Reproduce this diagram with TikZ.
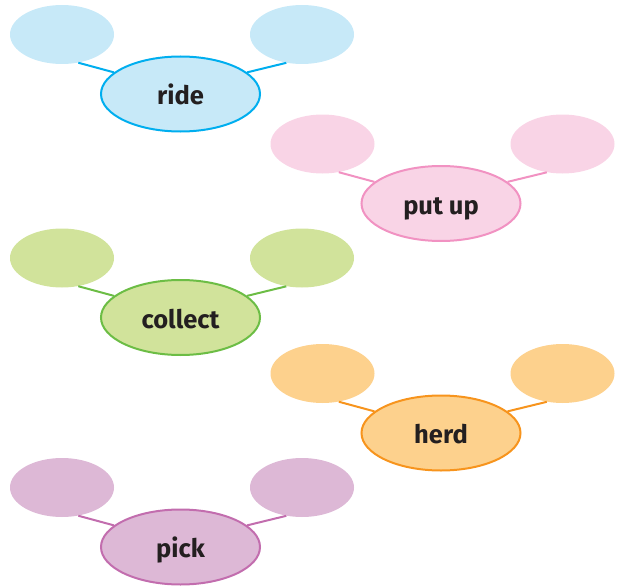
\documentclass[tikz,border=0pt]{standalone}
\usepackage{fontspec}
\setmainfont{Fira Sans}
\usetikzlibrary{shapes.geometric,calc}

\definecolor{inkdark}{HTML}{231F20}
\definecolor{blueFill}{HTML}{C7E9F8}
\definecolor{blueLine}{HTML}{00AEEF}
\definecolor{pinkFill}{HTML}{F9D4E6}
\definecolor{pinkLine}{HTML}{F192C2}
\definecolor{greenFill}{HTML}{D1E39B}
\definecolor{greenLine}{HTML}{6CBD45}
\definecolor{orangeFill}{HTML}{FDD18D}
\definecolor{orangeLine}{HTML}{F7941D}
\definecolor{plumFill}{HTML}{DDB8D6}
\definecolor{plumLine}{HTML}{C26DAE}

\tikzset{
  hub/.style={ellipse, draw, line width=2pt, inner sep=0pt,
    minimum width=159pt, minimum height=75pt,
    text height=21pt, text depth=0pt,
    font=\fontsize{25.5}{25.5}\selectfont\bfseries, text=inkdark},
  leaf/.style={ellipse, inner sep=0pt, minimum width=104pt, minimum height=59pt},
  link/.style={line width=2pt},
}

% one word web: hub word with two empty satellites
\newcommand{\wordweb}[5]{%
  \node[hub, fill=#3, draw=#4] (#1-c) at (#2) {#5};
  \node[leaf, fill=#3] (#1-l) at ($(#1-c)+(-118.5,-59.5)$) {};
  \node[leaf, fill=#3] (#1-r) at ($(#1-c)+(121.5,-59.5)$) {};
  \draw[link, draw=#4] (#1-l.-60) -- (#1-c.162);
  \draw[link, draw=#4] (#1-r.-119) -- (#1-c.18);
}

\begin{document}
\begin{tikzpicture}[x=1pt, y=-1pt]
  \useasboundingbox (0,0) rectangle (624,586);
  \wordweb{ride}{180.5,94}{blueFill}{blueLine}{ride}
  \wordweb{putup}{441,203.5}{pinkFill}{pinkLine}{put up}
  \wordweb{collect}{180.5,317.5}{greenFill}{greenLine}{collect}
  \wordweb{herd}{441,433}{orangeFill}{orangeLine}{herd}
  \wordweb{pick}{180.5,547}{plumFill}{plumLine}{pick}
\end{tikzpicture}
\end{document}
